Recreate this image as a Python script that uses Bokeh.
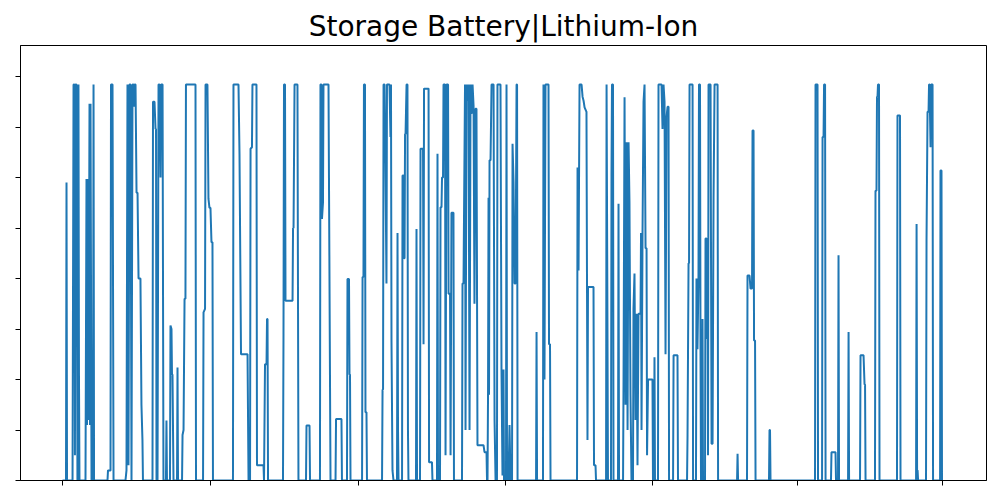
from bokeh.plotting import figure
from bokeh.models import Range1d, FixedTicker, CustomJSTickFormatter
from bokeh.embed import file_html
from bokeh.resources import INLINE

# hour of year
hours = [
    0, 35, 40, 45, 100, 110, 119, 124, 129, 139, 149, 154, 159, 164, 169,
    229, 239, 244, 249, 259, 269, 274, 279, 289, 304, 309, 314,
    448, 453, 478, 483, 498, 508, 627, 637, 647, 657, 667, 677, 687, 697, 707, 712, 717, 727,
    737, 747, 757, 776, 786, 796, 801,
    896, 901, 916, 926, 931, 936, 946, 956, 966, 976, 981, 996, 1005,
    1030, 1035, 1040, 1070, 1075, 1085, 1090, 1095, 1105, 1140, 1145, 1150,
    1190, 1195, 1205, 1215, 1224, 1229, 1324, 1329,
    1399, 1404, 1419, 1424, 1443, 1453, 1463, 1473, 1483, 1493, 1498,
    1697, 1702, 1752, 1762, 1777, 1842, 1852, 1867, 1872, 1886, 1891, 1931, 1936, 2001, 2006,
    2016, 2031, 2036, 2041, 2046,
    2195, 2200, 2205, 2215, 2220, 2290, 2295, 2300, 2310, 2339, 2349,
    2424, 2429, 2459, 2464, 2563, 2568, 2578, 2583, 2593, 2598, 2648, 2668,
    2718, 2723, 2777, 2782, 2832, 2837, 2852, 2857, 2862, 2867,
    2982, 2987, 2996, 3001, 3011, 3016, 3026, 3031,
    3181, 3186, 3191, 3196, 3206, 3215, 3225, 3230, 3255, 3265, 3270, 3275, 3285, 3295,
    3330, 3335, 3340, 3345, 3380, 3385, 3395, 3400, 3405, 3410, 3415, 3425, 3434, 3439, 3444,
    3519, 3524, 3529, 3559, 3564, 3589, 3594, 3599, 3644, 3649, 3678, 3683,
    3728, 3733, 3738, 3758, 3763, 3773, 3778, 3788, 3793, 3808, 3813, 3823, 3838, 3843, 3858,
    3863, 3872, 3892, 3897,
    3977, 3982, 3992, 4007, 4012, 4022, 4032, 4042, 4052, 4062, 4072, 4082, 4092, 4101, 4111,
    4121, 4131, 4191, 4201, 4221, 4226, 4231, 4236, 4241, 4246, 4251, 4261, 4271, 4291, 4301,
    4311, 4325, 4330, 4360, 4370, 4380, 4390, 4395, 4415, 4420, 4425, 4440, 4450, 4460,
    4475, 4480, 4490, 4500, 4510, 4520, 4525, 4530,
    4714, 4719, 4724, 4783, 4788, 4798, 4808, 4838, 4843, 4853, 4858,
    5122, 5127, 5137, 5147, 5167, 5177, 5187, 5197, 5216, 5226, 5231, 5286, 5291, 5306, 5311,
    5411, 5416, 5425, 5430, 5460, 5465, 5470, 5480, 5485, 5530, 5535, 5540,
    5580, 5585, 5595, 5605, 5615, 5625, 5635, 5644, 5654, 5664,
    5679, 5684, 5694, 5704, 5714, 5724, 5734, 5754, 5759, 5764, 5774, 5784, 5794, 5804, 5814,
    5819, 5829, 5873, 5878, 5888, 5893, 5898,
    5928, 5933, 5963, 5973, 5983, 5993, 6003, 6013, 6023, 6033, 6038, 6078, 6083, 6122, 6127,
    6217, 6222, 6232, 6237, 6242, 6272, 6277, 6306, 6311, 6321, 6331, 6336, 6346, 6351, 6356,
    6366, 6371, 6376, 6396, 6401, 6411, 6416, 6421, 6426, 6431, 6451, 6461, 6471, 6481, 6491,
    6521, 6526,
    6715, 6720, 6725, 6814, 6819, 6839, 6849, 6864, 6869, 6879, 6884, 6894, 6899,
    7033, 7038, 7043, 7048,
    7491, 7496, 7516, 7521, 7561, 7566, 7576, 7581, 7591, 7596,
    7650, 7655, 7695, 7700, 7720, 7725, 7730, 7820, 7825, 7830,
    7939, 7944, 7974, 7984, 7989, 7994,
    8088, 8093, 8103, 8108, 8113, 8118, 8128, 8133,
    8307, 8312, 8337, 8342, 8497, 8502, 8507, 8512, 8517,
    8596, 8601, 8611, 8621, 8626, 8631, 8641, 8646, 8661, 8666,
    8736, 8740, 8750, 8755, 8760,
]

# battery output level
level = [
    0, 0, 5.9, 0, 0, 7.84, 7.84, 0.5, 7.84, 7.84, 0, 2.1, 7.84, 2.1, 0,
    0, 5.97, 1.1, 5.97, 1.2, 7.46, 1.1, 7.46, 0, 0, 7.84, 0,
    0, 0.2, 0.2, 7.84, 7.84, 0, 0, 0.2, 7.84, 0.3, 7.84, 7.84, 0, 7.84, 7.84, 7.4, 7.84, 7.84,
    5.7, 5.7, 4.0, 4.0, 1.5, 0.8, 0,
    0, 7.5, 7.5, 6.96, 6.96, 0, 0, 7.84, 7.84, 6.0, 7.84, 7.84, 0,
    0, 1.19, 0, 0, 3.07, 3.0, 2.1, 2.1, 0, 0, 2.24, 0,
    0, 0.9, 1.0, 3.6, 3.6, 7.84, 7.84, 0,
    0, 3.33, 3.4, 7.84, 7.84, 5.58, 5.4, 5.4, 4.72, 4.72, 0,
    0, 7.84, 7.84, 6.47, 2.5, 2.5, 0, 0, 6.57, 6.6, 7.84, 7.84, 0.3, 0.3, 0,
    2.3, 2.3, 3.2, 3.2, 0,
    0, 2.9, 7.84, 7.84, 3.56, 3.56, 5.0, 5.0, 7.84, 7.84, 0,
    0, 1.09, 1.09, 0, 0, 7.84, 7.84, 5.18, 5.5, 7.84, 7.84, 0,
    0, 1.22, 1.22, 0, 0, 3.99, 3.99, 2.1, 2.1, 0,
    0, 4.03, 4.03, 7.84, 7.84, 1.35, 1.35, 0,
    0, 1.8, 1.8, 7.84, 7.84, 6.27, 3.9, 7.84, 7.84, 6.8, 7.84, 2.77, 0.2, 0,
    0, 4.9, 1.0, 0, 0, 6.04, 6.04, 4.4, 4.4, 6.86, 6.86, 7.84, 7.84, 1.0, 0,
    0, 4.98, 0, 0, 6.57, 6.57, 2.7, 7.76, 7.76, 0.36, 0.36, 0,
    0, 6.47, 0, 0, 5.41, 5.41, 6.0, 6.0, 7.84, 7.84, 0.5, 7.84, 7.84, 3.7, 3.7,
    0.5, 5.3, 5.3, 0,
    0, 3.9, 3.9, 7.84, 1.0, 7.84, 7.52, 7.84, 1.0, 7.84, 7.26, 7.84, 7.42, 3.5, 7.36,
    7.36, 0.7, 0.7, 0.56, 0.56, 0, 0, 1.7, 5.6, 1.7, 6.34, 6.34, 7.84, 7.84, 1.19,
    0, 0, 7.84, 7.84, 2.2, 0.1, 2.2, 0, 0, 7.84, 0, 0, 1.1, 0,
    0, 6.67, 5.9, 3.9, 3.9, 7.84, 7.84, 0,
    0, 2.94, 0, 0, 7.84, 2.0, 7.84, 7.84, 2.7, 2.7, 0,
    0, 6.2, 4.16, 7.84, 7.84, 7.6, 7.52, 7.39, 7.3, 0.8, 3.83, 3.83, 0.3, 0.3, 0,
    0, 7.84, 2.97, 0, 0, 6.04, 7.84, 7.84, 0, 0, 5.48, 0,
    0, 2.0, 7.59, 1.5, 6.7, 1.0, 6.7, 5.5, 1.7, 0,
    0, 3.4, 4.1, 1.2, 3.3, 0.3, 3.3, 3.3, 4.9, 1.0, 4.9, 7.5, 7.84, 4.6, 4.6,
    0.5, 2.0, 2.0, 0, 0, 2.44, 0,
    0, 7.84, 7.84, 6.96, 7.84, 7.5, 2.5, 7.2, 7.4, 7.4, 0, 0, 2.48, 2.48, 0,
    0, 0.9, 4.3, 4.3, 7.84, 7.84, 0, 0, 4.0, 2.6, 4.0, 7.84, 7.84, 2.6, 0,
    0, 3.2, 0, 0, 4.79, 4.79, 2.8, 4.79, 0.5, 7.84, 7.84, 0.73, 0.73, 5.6, 7.84,
    7.84, 0,
    0, 0.53, 0, 0, 4.06, 4.06, 3.8, 3.8, 6.93, 6.93, 2.77, 2.77, 0,
    0, 1.0, 1.0, 0,
    0, 7.84, 7.84, 0, 0, 6.8, 6.8, 7.84, 7.84, 0,
    0, 0.56, 0.56, 0, 0, 4.46, 0, 0, 2.94, 0,
    0, 2.48, 2.48, 1.9, 1.9, 0,
    0, 5.74, 5.74, 7.6, 7.6, 7.84, 7.84, 0,
    0, 7.23, 7.23, 0, 0, 5.08, 0.2, 0.2, 0,
    0, 4.75, 7.3, 7.3, 7.84, 7.84, 6.6, 7.84, 7.84, 0,
    0, 6.14, 6.14, 0, 0,
]

x_ticks = [0, 1473, 2947, 4410, 5873, 7317, 8760]
y_ticks = [0, 1, 2, 3, 4, 5, 6, 7, 8]

p = figure(
    frame_width=966, frame_height=435,
    min_border_left=20, min_border_right=14, min_border_top=45, min_border_bottom=20,
    x_range=Range1d(-418, 9198), y_range=Range1d(0, 8.614),
    output_backend="svg", toolbar_location=None,
    title="Storage Battery|Lithium-Ion",
)
p.line(hours, level, line_color="#1f77b4", line_width=2)

p.grid.visible = False
p.outline_line_color = "black"
p.outline_line_width = 1
p.background_fill_color = "white"
p.border_fill_color = "white"

p.title.text_font = "DejaVu Sans"
p.title.text_font_size = "28px"
p.title.text_font_style = "normal"
p.title.align = "center"
p.title.text_color = "black"
p.title.standoff = 6

empty = CustomJSTickFormatter(code="return ''")
p.xaxis.ticker = FixedTicker(ticks=x_ticks)
p.yaxis.ticker = FixedTicker(ticks=y_ticks)
for ax in (p.xaxis[0], p.yaxis[0]):
    ax.formatter = empty
    ax.major_tick_out = 5
    ax.major_tick_in = 0
    ax.minor_tick_out = 0
    ax.minor_tick_in = 0
    ax.axis_line_color = "black"
    ax.major_tick_line_color = "black"
    ax.major_label_standoff = 0

open("out.html", "w").write(file_html(p, INLINE))
